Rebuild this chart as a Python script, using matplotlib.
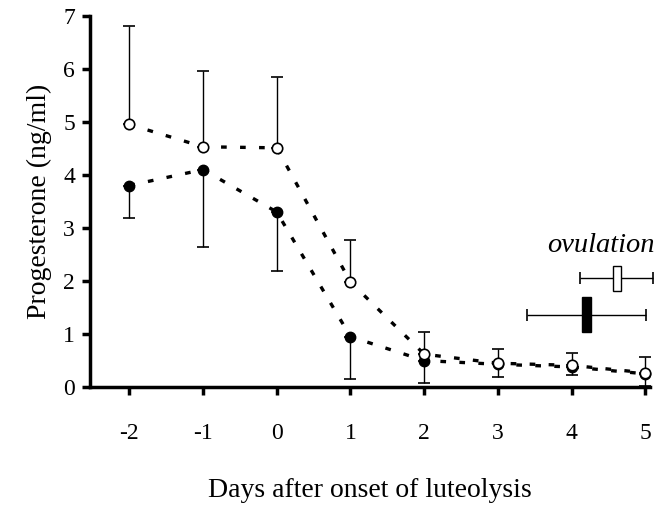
import numpy as np
import matplotlib
matplotlib.use("Agg")
import matplotlib.pyplot as plt

plt.rcParams['font.family'] = ['Liberation Serif', 'DejaVu Serif']

days = [-2, -1, 0, 1, 2, 3, 4, 5]

# open circles (upper error bars)
open_mean = [4.95, 4.53, 4.51, 1.98, 0.62, 0.45, 0.41, 0.27]
open_upper = [6.81, 5.96, 5.85, 2.78, 1.03, 0.71, 0.64, 0.56]

# filled circles (lower error bars)
filled_mean = [3.80, 4.10, 3.30, 0.95, 0.50, 0.43, 0.38, 0.25]
filled_lower = [3.19, 2.65, 2.18, 0.16, 0.07, 0.19, 0.23, 0.02]

# ovulation timing (day, range low/high, y level, box height)
ov_open = {"day": 4.61, "lo": 4.12, "hi": 5.10, "y": 2.05, "h": 0.47}
ov_filled = {"day": 4.20, "lo": 3.39, "hi": 5.01, "y": 1.36, "h": 0.66}

fig = plt.figure(figsize=(6.59, 5.08), dpi=100)
ax = fig.add_axes([0.137, 0.238, 0.849, 0.731])

dash = (0, (1.7, 4.0))
ax.plot(days, filled_mean, color='black', lw=2.4, linestyle=dash, zorder=2, clip_on=False)
ax.plot(days, open_mean, color='black', lw=2.4, linestyle=dash, zorder=2, clip_on=False)

# error bars
om = np.array(open_mean)
fm = np.array(filled_mean)
ax.errorbar(days, om, yerr=[np.zeros(len(om)), np.array(open_upper) - om],
            fmt='none', ecolor='black', elinewidth=1, capsize=4.5, capthick=1.2, zorder=3)
ax.errorbar(days, fm, yerr=[fm - np.array(filled_lower), np.zeros(len(fm))],
            fmt='none', ecolor='black', elinewidth=1, capsize=4.5, capthick=1.2, zorder=3)

ax.plot(days, filled_mean, 'o', color='black', ms=7.5, zorder=4, clip_on=False)
ax.plot(days, open_mean, 'o', mfc='white', mec='black', mew=1.2, ms=7.5, zorder=5, clip_on=False)

# ovulation bars
for ov, fc, w in [(ov_open, 'white', 0.11), (ov_filled, 'black', 0.12)]:
    ax.errorbar([ov["day"]], [ov["y"]], xerr=[[ov["day"] - ov["lo"]], [ov["hi"] - ov["day"]]],
                fmt='none', ecolor='black', elinewidth=1, capsize=4.5, capthick=1.2, zorder=3,
                clip_on=False)
    ax.add_patch(plt.Rectangle((ov["day"] - w / 2, ov["y"] - ov["h"] / 2), w, ov["h"],
                               facecolor=fc, edgecolor='black', lw=1, zorder=4))
ax.text(4.40, 2.66, "ovulation", fontsize=20.5, style='italic', ha='center', va='center')

ax.set_xlim(-2.53, 5.06)
ax.set_ylim(0, 7)
ax.set_xticks(days)
ax.set_xticklabels(["-2", "-1", "0", "1", "2", "3", "4", "5"])
ax.set_yticks(range(8))
for s in ['top', 'right']:
    ax.spines[s].set_visible(False)
for s in ['left', 'bottom']:
    ax.spines[s].set_linewidth(2.5)
ax.tick_params(axis='both', direction='out', length=6, width=2.5, labelsize=17)
ax.tick_params(axis='x', pad=20)
ax.tick_params(axis='y', pad=5)

ax.set_ylabel("Progesterone (ng/ml)", fontsize=20, labelpad=8)
ax.set_xlabel("Days after onset of luteolysis", fontsize=20, labelpad=24)

fig.savefig("out.png", dpi=100)
